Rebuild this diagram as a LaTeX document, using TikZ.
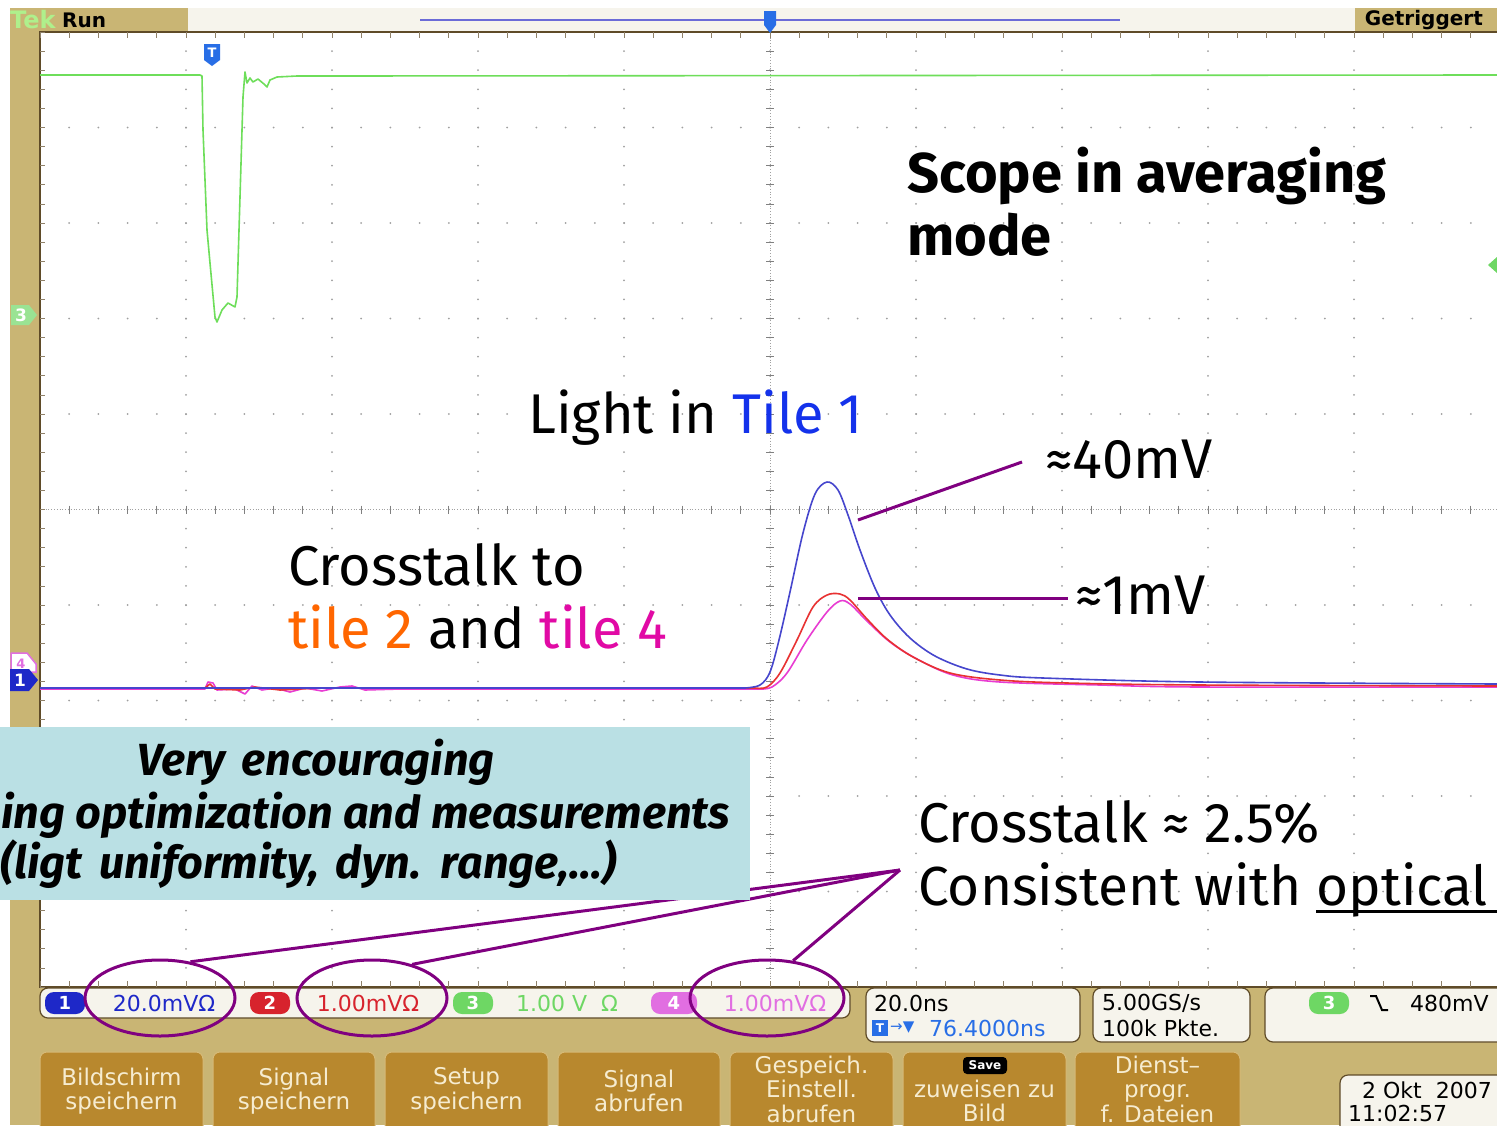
\documentclass[tikz,border=0pt]{standalone}
\usepackage{fontspec}
\setmainfont{Fira Sans}
\newfontfamily\boxfont[WordSpace=1.6]{Fira Sans}
\newfontfamily\scopefont{DejaVu Sans}
\usetikzlibrary{shapes.geometric}
\definecolor{tanbg}{RGB}{201,181,116}
\definecolor{btn}{RGB}{184,136,46}
\definecolor{btnedge}{RGB}{214,186,120}
\definecolor{btntxt}{RGB}{246,236,208}
\definecolor{boxblue}{RGB}{186,224,228}
\definecolor{purp}{RGB}{128,0,128}
\definecolor{trgreen}{RGB}{110,222,90}
\definecolor{trblue}{RGB}{70,70,205}
\definecolor{trred}{RGB}{232,50,50}
\definecolor{trpink}{RGB}{232,60,210}
\definecolor{tileblue}{RGB}{20,50,235}
\definecolor{tileorange}{RGB}{255,102,0}
\definecolor{tilemag}{RGB}{225,10,165}
\definecolor{dotgray}{RGB}{160,160,160}
\definecolor{frame}{RGB}{95,75,40}
\definecolor{barbg}{RGB}{246,244,236}
\definecolor{chblue}{RGB}{30,40,200}
\definecolor{chred}{RGB}{215,35,45}
\definecolor{chgreen}{RGB}{110,215,100}
\definecolor{chpink}{RGB}{225,110,225}
\definecolor{tblue}{RGB}{40,110,230}
\begin{document}
\begin{tikzpicture}[x=1pt,y=-1pt,
  ui/.style={font=\scopefont\fontsize{22}{24}\selectfont, inner sep=0pt},
  btnbox/.style={fill=btn, draw=btnedge, line width=1pt, rounded corners=7pt},
  btntext/.style={font=\scopefont\fontsize{23}{24.5}\selectfont, text=btntxt, align=center, inner sep=0pt},
  ann/.style={font=\fontsize{56}{60}\selectfont, inner sep=0pt, anchor=base west},
  boldann/.style={font=\bfseries\fontsize{56}{60}\selectfont, inner sep=0pt, anchor=base west},
  boxtxt/.style={font=\boxfont\bfseries\itshape\fontsize{45}{50}\selectfont, inner sep=0pt},
  purpline/.style={draw=purp, line width=3pt},
  ring/.style={ellipse, draw=purp, line width=3pt, inner sep=0pt, minimum width=150pt, minimum height=76pt},
  statbox/.style={fill=barbg, draw=frame, line width=1.2pt, rounded corners=8pt},
  badge/.style={rounded corners=9pt, minimum width=40pt, minimum height=22pt, inner sep=0pt, text=white, font=\scopefont\bfseries\fontsize{18}{20}\selectfont},
  trace/.style={line width=1.6pt, line join=round}
]
\useasboundingbox (0,0) rectangle (1497,1125);
\fill[white] (0,0) rectangle (1497,1125);
% scope frame
\fill[tanbg] (10,8) rectangle (1497,1125);
\fill[white] (40,32) rectangle (1497,987);
% top bar
\fill[barbg] (188,8) rectangle (1355,31);
\draw[trblue!80, line width=2.5pt] (420,20) -- (1120,20);
\node[ui, anchor=west, text={rgb,255:red,175;green,240;blue,140}, font=\scopefont\bfseries\fontsize{24}{26}\selectfont] (tek) at (10,20) {Tek};
\node[ui, anchor=west, font=\scopefont\bfseries\fontsize{20}{22}\selectfont] (run) at (62,20) {Run};
\node[ui, anchor=east, font=\scopefont\bfseries\fontsize{20}{22}\selectfont] (trig) at (1483,20) {Getriggert};
% grid dots
\foreach \i in {0,...,10} {\foreach \k in {0,...,50} {\fill[dotgray] ({40+146*\i},{32+19.1*\k}) circle (1pt);}}
\foreach \j in {0,...,10} {\foreach \k in {0,...,50} {\fill[dotgray] ({40+29.2*\k},{32+95.5*\j}) circle (1pt);}}
% centre lines
\draw[dotgray, dotted, line width=0.8pt] (770,32) -- (770,987);
\draw[dotgray, dotted, line width=0.8pt] (40,509.5) -- (1497,509.5);
\foreach \k in {0,...,50} {\draw[dotgray!80!black, line width=0.8pt] ({766},{32+19.1*\k}) -- ++(8,0);}
\foreach \k in {0,...,50} {\draw[dotgray!80!black, line width=0.8pt] ({40+29.2*\k},{505.5}) -- ++(0,8);}
% border and edge ticks
\draw[frame, line width=2pt] (1497,32) -- (40,32) -- (40,987) -- (1497,987);
\foreach \k in {0,...,50} {\draw[frame!70, line width=0.8pt] ({40+29.2*\k},32) -- ++(0,6);
  \draw[frame!70, line width=0.8pt] ({40+29.2*\k},987) -- ++(0,-6);}
\foreach \k in {0,...,50} {\draw[frame!70, line width=0.8pt] (40,{32+19.1*\k}) -- ++(5,0);}
% trigger position marker
\fill[tblue] (764,11) -- (776,11) -- (776,25) -- (770,33) -- (764,25) -- cycle;
% T marker on screen
\fill[tblue] (204,44) -- (220,44) -- (220,60) -- (212,66) -- (204,60) -- cycle;
\node[text=white, font=\scopefont\bfseries\fontsize{13}{14}\selectfont, inner sep=0pt] (tmark) at (212,53) {T};
% green trace (ch3)
\draw[trgreen, trace] (40,75) -- (200,75) -- (202,76) -- (203,130) -- (207,230) -- (210,263) -- (215,317) -- (217,322) -- (222,310) -- (228,303) -- (235,307) -- (237,297) -- (240,197) -- (243,97) -- (245,72) -- (247,83) -- (250,78) -- (253,82) -- (258,79) -- (264,84) -- (267,87) -- (270,80) -- (277,77) -- (297,76) -- (330,76) -- (1497,75);
% ch4 (pink)
\draw[trpink, trace] (40,689) -- (205,689) -- (208,682) -- (213,683) -- (217,690) -- (235,689) -- (245,694) -- (252,686) -- (262,690) -- (275,688) -- (290,692) -- (305,688) -- (322,691) -- (340,687) -- (352,686) -- (365,690) -- (400,689) -- (760,689);
\draw[trpink, trace] plot[smooth, tension=0.55] coordinates {(760,689) (772,687) (787,673) (807,640) (827,612) (840,601) (850,604) (867,621) (890,642) (917,659) (953,675) (1000,682) (1100,685) (1200,687) (1497,687)};
% ch2 (red)
\draw[trred, trace] (40,688) -- (205,688) -- (210,684) -- (215,689) -- (240,690) -- (255,687) -- (280,690) -- (320,688) -- (755,688);
\draw[trred, trace] plot[smooth, tension=0.55] coordinates {(755,688) (767,687) (780,673) (797,640) (813,607) (827,595) (840,594) (850,600) (867,619) (887,639) (913,657) (950,673) (1000,680) (1067,683) (1200,685) (1497,686)};
% ch1 (blue)
\draw[trblue, trace] (40,688) -- (745,688);
\draw[trblue, trace] plot[smooth, tension=0.55] coordinates {(745,688) (760,685) (770,672) (779,640) (790,592) (803,533) (815,494) (827,482) (838,490) (848,515) (860,550) (875,588) (890,615) (910,638) (935,656) (967,669) (1000,675) (1043,678) (1200,682) (1497,684)};
% left channel markers
\fill[chgreen!70!white] (11,305) -- (29,305) -- (37,315) -- (29,325) -- (11,325) -- cycle;
\node[text=white, font=\scopefont\bfseries\fontsize{17}{18}\selectfont, inner sep=0pt] (m3) at (21,315) {3};
\filldraw[fill=white, draw=chpink, line width=1.5pt] (11,653) -- (27,653) -- (36,664) -- (36,672) -- (11,672) -- cycle;
\node[text=chpink, font=\scopefont\bfseries\fontsize{13}{14}\selectfont, inner sep=0pt] (m4) at (21,664) {4};
\fill[chblue] (10,669) -- (29,669) -- (38,680) -- (29,691) -- (10,691) -- cycle;
\node[text=white, font=\scopefont\bfseries\fontsize{17}{18}\selectfont, inner sep=0pt] (m1) at (20,680) {1};
\fill[chgreen] (1497,257) -- (1488,265) -- (1497,273) -- cycle;
% status bars
\draw[statbox] (40,988) rectangle (850,1018);
\node[badge, fill=chblue] (b1) at (65,1003) {1};
\node[ui, text=chblue] (v1) at (164,1003) {20.0mVΩ};
\node[badge, fill=chred] (b2) at (270,1003) {2};
\node[ui, text=chred] (v2) at (368,1003) {1.00mVΩ};
\node[badge, fill=chgreen] (b3) at (473,1003) {3};
\node[ui, text=chgreen] (v3) at (567,1003) {1.00 V\ \ Ω};
\node[badge, fill=chpink, minimum width=46pt] (b4) at (674,1003) {4};
\node[ui, text=chpink] (v4) at (775,1003) {1.00mVΩ};
\draw[statbox] (866,988) rectangle (1080,1042);
\node[ui, anchor=west] (tb) at (874,1003) {20.0ns};
\fill[tblue] (872,1020) rectangle (888,1036);
\node[text=white, font=\scopefont\bfseries\fontsize{12}{13}\selectfont, inner sep=0pt] (tsq) at (880,1028) {T};
\node[ui, anchor=west, text=tblue, font=\scopefont\fontsize{15}{16}\selectfont] (tarr) at (890,1028) {→▼};
\node[ui, anchor=west, text=tblue] (tpos) at (929,1028) {76.4000ns};
\draw[statbox] (1093,988) rectangle (1250,1042);
\node[ui, anchor=west] (sr) at (1102,1003) {5.00GS/s};
\node[ui, anchor=west] (pk) at (1102,1028) {100k Pkte.};
\draw[statbox] (1265,988) rectangle (1510,1042);
\node[badge, fill=chgreen] (b3t) at (1329,1003) {3};
\draw[black, line width=2pt] (1370,996) -- (1376,996) -- (1382,1010) -- (1388,1010);
\node[ui, anchor=west] (lvl) at (1410,1003) {480mV};
% buttons
\draw[btnbox] (40,1052) rectangle (203,1140);
\node[btntext] (bt1) at (121.5,1091) {Bildschirm\\speichern};
\draw[btnbox] (213,1052) rectangle (375,1140);
\node[btntext] (bt2) at (294,1091) {Signal\\speichern};
\draw[btnbox] (385,1052) rectangle (548,1140);
\node[btntext] (bt3) at (466.5,1091) {Setup\\speichern};
\draw[btnbox] (558,1052) rectangle (720,1140);
\node[btntext] (bt4) at (639,1091) {Signal\\abrufen};
\draw[btnbox] (730,1052) rectangle (893,1140);
\node[btntext] (bt5) at (811.5,1089) {Gespeich.\\Einstell.\\abrufen};
\draw[btnbox] (903,1052) rectangle (1066,1140);
\fill[black, rounded corners=4pt] (963,1057) rectangle (1007,1074);
\node[text=white, font=\scopefont\bfseries\fontsize{12}{13}\selectfont, inner sep=0pt] (save) at (985,1065.5) {Save};
\node[btntext] (bt6) at (984.5,1101) {zuweisen zu\\Bild};
\draw[btnbox] (1075,1052) rectangle (1240,1140);
\node[btntext] (bt7) at (1157.5,1089) {Dienst–\\progr.\\f. Dateien};
\draw[statbox] (1340,1075) rectangle (1515,1140);
\node[ui, anchor=west] (date) at (1362,1090) {2 Okt\ \ 2007};
\node[ui, anchor=west] (time) at (1348,1113) {11:02:57};
% callout rings and connectors
\node[ring] (e1) at (160,998) {};
\node[ring] (e2) at (372,998) {};
\node[ring, minimum width=154pt] (e3) at (767,998) {};
\coordinate (hub) at (900,870);
\draw[purpline] (e1.50) -- (hub);
\draw[purpline] (e2.40) -- (hub);
\draw[purpline] (e3.55) -- (hub);
% info box
\fill[boxblue] (0,727) rectangle (750,900);
\node[boxtxt] (bx1) at (316,762) {Very encouraging};
\node[boxtxt, font=\bfseries\itshape\fontsize{45}{50}\selectfont, anchor=base west] (bx2) at (1,828) {ing optimization and measurements};
\node[boxtxt, anchor=base west] (bx3) at (0,878) {(ligt uniformity, dyn. range,…)};
% annotations
\node[boldann] (sc1) at (907,192) {Scope in averaging};
\node[boldann] (sc2) at (907,255) {mode};
\node[ann] (light) at (528,433) {Light in \textcolor{tileblue}{Tile 1}};
\node[ann] (l40) at (1045,478) {≈40mV};
\node[ann] (l1) at (1075,614) {≈1mV};
\coordinate (p40) at (858,520);
\coordinate (a40) at (1022,462);
\coordinate (p1) at (858,598);
\coordinate (a1) at (1068,598);
\draw[purpline] (p40) -- (a40);
\draw[purpline] (p1) -- (a1);
\node[ann] (ct1) at (288,585) {Crosstalk to};
\node[ann] (ct2) at (288,648) {\textcolor{tileorange}{tile 2} and \textcolor{tilemag}{tile 4}};
\node[ann] (cr1) at (918,842) {Crosstalk ≈ 2.5\%};
\node[ann, font=\fontsize{55}{60}\selectfont] (cr2) at (918,905) {Consistent with optical};
\draw[black, line width=3pt] (1316,911) -- (1497,911);
\end{tikzpicture}
\end{document}
